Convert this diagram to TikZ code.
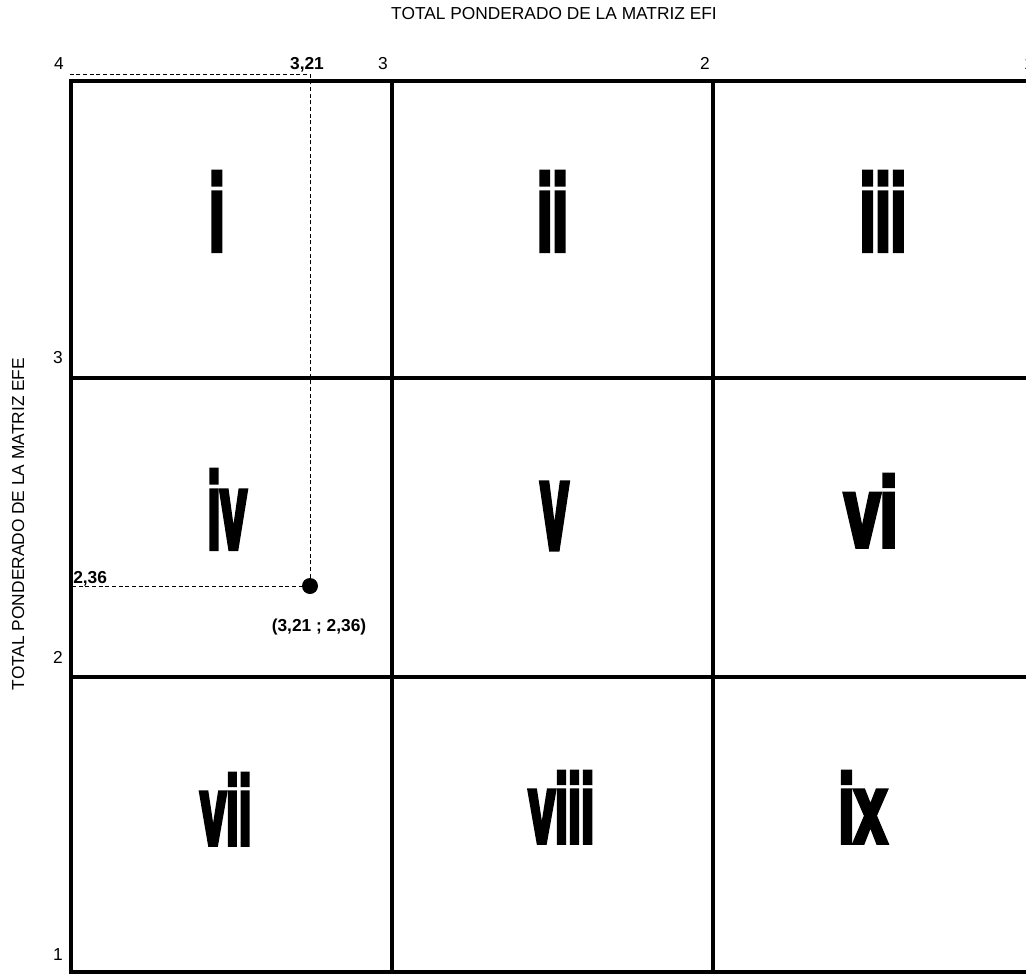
\documentclass[tikz,border=0pt]{standalone}
\usepackage{fontspec}
\usepackage{graphicx}
\setmainfont{Liberation Sans}
\newfontfamily\romanfont{Liberation Sans}[BoldFeatures={FakeBold=6}]
\usetikzlibrary{positioning}
\tikzset{
  x=0.75pt,y=-0.75pt,
  gridline/.style={line width=2.8pt,line cap=rect},
  guide/.style={line width=0.75pt,dash pattern=on 3pt off 2pt},
  tick/.style={font=\fontsize{13}{15}\selectfont,inner sep=0pt},
  ticklbl/.style={tick,font=\fontsize{13}{15}\selectfont\bfseries},
  numeral/.style={font=\romanfont\bfseries\fontsize{#1}{#1}\selectfont,anchor=base,inner sep=0pt},
  numeral/.default=80,
  dot/.style={circle,fill=black,inner sep=0pt,minimum size=12pt},
}

\begin{document}
\begin{tikzpicture}
  \useasboundingbox (0,0) rectangle (1026,975);
  \clip (0,0) rectangle (1026,975);
  % axis titles
  \node[tick,anchor=base] (efi) at (554,19) {TOTAL PONDERADO DE LA MATRIZ EFI};
  \node[tick,rotate=90,anchor=base] (efe) at (24,524) {TOTAL PONDERADO DE LA MATRIZ EFE};
  % grid
  \foreach \x in {71,392,713,1034} \draw[gridline] (\x,81) -- (\x,972);
  \foreach \y in {81,378,677,972} \draw[gridline] (71,\y) -- (1034,\y);
  % scale values
  \foreach \v/\x in {4/59,3/383,2/705,1/1029} \node[tick,anchor=base] (top\v) at (\x,69) {\v};
  \foreach \v/\y in {3/363,2/663,1/960} \node[tick,anchor=base] (left\v) at (58,\y) {\v};
  % quadrants
  \foreach \txt/\x/\y/\s/\k in {i/217/250/80/0.52,ii/552.5/250/80/0.52,iii/883/250/80/0.52,
      iv/227/548/80/0.44,v/554.5/548/91/0.41,vi/871/546/73/0.65,
      vii/226/844/72/0.48,viii/561.5/842/72/0.49,ix/862.5/842/72/0.6}
    \node[numeral=\s] (n\txt) at (\x,\y) {\scalebox{\k}[1]{\txt}};
  % position of the company
  \node[dot] (pt) at (310,586) {};
  \coordinate (xmark) at (310,74);
  \coordinate (ymark) at (72,586);
  \coordinate (corner) at (69,74);
  \draw[guide] (ymark) -- (pt) -- (xmark) -- (corner);
  \node[ticklbl,anchor=base] (xval) at (307,69) {3,21};
  \node[ticklbl,anchor=base west] (yval) at (73,583) {2,36};
  \node[ticklbl,anchor=base] (ptlbl) at (319,631) {(3,21 ; 2,36)};
\end{tikzpicture}
\end{document}
